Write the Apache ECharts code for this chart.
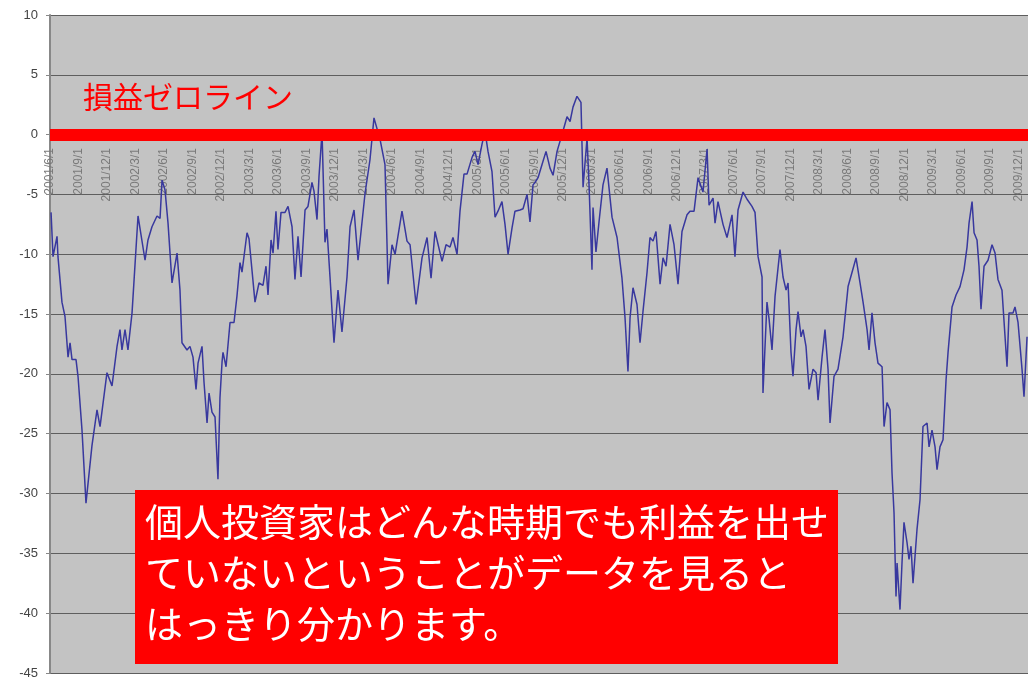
<!DOCTYPE html>
<html>
<head>
<meta charset="utf-8">
<script src="https://cdn.jsdelivr.net/npm/echarts@6/dist/echarts.min.js"></script>
<style>
  html, body { margin: 0; padding: 0; background: #fff; }
  #container { width: 1028px; height: 682px; }
</style>
</head>
<body>
<div id="container"></div>
<script>
// quarter labels on the x axis, one every 3 months from 2001/6/1
const tickLabels = [
    '2001/6/1', '2001/9/1', '2001/12/1',
    '2002/3/1', '2002/6/1', '2002/9/1', '2002/12/1',
    '2003/3/1', '2003/6/1', '2003/9/1', '2003/12/1',
    '2004/3/1', '2004/6/1', '2004/9/1', '2004/12/1',
    '2005/3/1', '2005/6/1', '2005/9/1', '2005/12/1',
    '2006/3/1', '2006/6/1', '2006/9/1', '2006/12/1',
    '2007/3/1', '2007/6/1', '2007/9/1', '2007/12/1',
    '2008/3/1', '2008/6/1', '2008/9/1', '2008/12/1',
    '2009/3/1', '2009/6/1', '2009/9/1', '2009/12/1'
];

// months elapsed since 2001/6/1
const monthIdx = [
    0.11, 0.32, 0.74, 0.84, 1.26, 1.58, 1.90, 2.11, 2.32, 2.74,
    2.95, 3.37, 3.79, 4.42, 4.95, 5.27, 6.00, 6.53, 7.06, 7.37,
    7.58, 7.90, 8.21, 8.64, 9.27, 10.01, 10.32, 10.74, 11.27, 11.59,
    11.80, 12.11, 12.43, 12.85, 13.38, 13.69, 13.90, 14.43, 14.74, 15.06,
    15.38, 15.59, 16.01, 16.22, 16.54, 16.75, 17.06, 17.38, 17.69, 17.90,
    18.12, 18.22, 18.54, 18.96, 19.38, 19.69, 20.01, 20.22, 20.75, 20.96,
    21.59, 22.01, 22.43, 22.75, 22.96, 23.28, 23.49, 23.80, 24.01, 24.33,
    24.75, 25.07, 25.49, 25.80, 26.12, 26.44, 26.86, 27.17, 27.59, 27.80,
    28.12, 28.33, 28.65, 28.96, 29.17, 29.49, 29.91, 30.33, 30.75, 30.96,
    31.28, 31.60, 32.02, 32.44, 33.18, 33.70, 34.12, 34.76, 35.28, 35.60,
    36.02, 36.34, 37.07, 37.60, 37.92, 38.55, 39.18, 39.71, 40.13, 40.55,
    41.29, 41.71, 42.13, 42.44, 42.87, 43.18, 43.60, 43.92, 44.45, 44.76,
    45.08, 45.50, 45.81, 46.13, 46.55, 46.87, 47.18, 47.60, 47.92, 48.24,
    48.66, 48.97, 49.50, 49.82, 50.24, 50.55, 50.87, 51.08, 51.40, 51.82,
    52.24, 52.66, 52.98, 53.40, 54.03, 54.45, 54.77, 55.08, 55.50, 55.92,
    56.14, 56.56, 56.77, 57.08, 57.19, 57.50, 57.82, 58.24, 58.66, 59.19,
    59.72, 60.24, 60.56, 60.87, 61.09, 61.40, 61.82, 62.14, 62.45, 62.88,
    63.19, 63.51, 63.82, 64.25, 64.56, 64.88, 65.30, 65.72, 66.14, 66.56,
    67.09, 67.40, 67.83, 68.25, 68.77, 69.20, 69.41, 69.83, 70.04, 70.35,
    70.88, 71.30, 71.83, 72.14, 72.46, 72.99, 73.41, 73.93, 74.25, 74.57,
    74.99, 75.09, 75.51, 75.73, 76.04, 76.36, 76.88, 77.20, 77.52, 77.73,
    78.04, 78.25, 78.57, 78.78, 79.10, 79.31, 79.62, 79.94, 80.36, 80.68,
    80.89, 81.31, 81.62, 81.94, 82.15, 82.57, 82.99, 83.52, 84.05, 84.47,
    84.89, 85.31, 85.63, 86.05, 86.26, 86.57, 86.89, 87.20, 87.63, 87.84,
    88.15, 88.47, 88.68, 88.89, 89.10, 89.21, 89.52, 89.73, 89.94, 90.26,
    90.47, 90.68, 90.89, 91.31, 91.63, 91.94, 92.37, 92.58, 92.89, 93.21,
    93.42, 93.73, 94.05, 94.37, 94.58, 95.00, 95.42, 95.84, 96.26, 96.58,
    96.79, 97.11, 97.32, 97.63, 97.84, 98.05, 98.37, 98.79, 99.21, 99.53,
    99.84, 100.26, 100.79, 101.00, 101.42, 101.63, 101.95, 102.37, 102.58, 102.90
];

// 損益 (%)
const pnl = [
    -6.5, -10.2, -8.5, -10.2, -14, -15.2, -18.6, -17.4, -18.8, -18.8,
    -20.2, -24.7, -30.8, -26, -23, -24.4, -19.9, -21, -17.7, -16.3,
    -18, -16.3, -18, -14.9, -6.8, -10.5, -8.8, -7.7, -6.8, -7,
    -3.8, -4.6, -7.4, -12.4, -9.9, -13, -17.4, -18, -17.7, -18.6,
    -21.3, -19.1, -17.7, -20.7, -24.1, -21.6, -23.2, -23.6, -28.8, -22,
    -19, -18.2, -19.4, -15.7, -15.7, -13.5, -10.7, -11.5, -8.2, -8.7,
    -14, -12.4, -12.6, -11, -13.4, -8.8, -9.9, -6.4, -9.6, -6.5,
    -6.5, -6, -7.7, -12.1, -8.5, -11.9, -6.3, -6, -4, -4.7,
    -7.1, -3.5, 0.2, -9, -7.9, -11.9, -17.4, -13, -16.5, -16.4,
    -11.9, -7.7, -6.3, -10.5, -4.9, -2.1, 1.4, -0.4, -2.5, -12.5,
    -9.2, -10, -6.4, -8.9, -9.2, -14.2, -10.3, -8.6, -12, -8.1,
    -10.6, -9.2, -9.4, -8.6, -10, -6.4, -3.3, -3.3, -1.9, -1.4,
    -2.5, -0.8, 0.3, -1.4, -3.1, -6.9, -6.4, -5.6, -7.5, -10,
    -7.8, -6.4, -6.3, -6.2, -5, -7.3, -4.2, -4, -3.6, -2.5,
    -1.4, -2.8, -3.4, -1.4, 0.3, 1.5, 1.1, 2.3, 3.2, 2.7,
    -4.4, -0.3, -4.2, -11.3, -6.1, -9.8, -7.3, -4.2, -2.8, -6.9,
    -8.6, -12, -15.3, -19.8, -15.3, -12.8, -14.2, -17.4, -14.8, -11.5,
    -8.6, -8.9, -8.1, -12.5, -10.3, -11, -7.5, -9.2, -12.5, -8.1,
    -6.7, -6.4, -6.4, -3.6, -4.8, -1.2, -5.9, -5.3, -7.4, -5.6,
    -7.5, -8.6, -6.7, -10.2, -6.3, -4.8, -5.4, -6, -6.5, -10.2,
    -11.9, -21.6, -14, -15.4, -18, -13.5, -9.6, -11.9, -13, -12.4,
    -18.2, -20.2, -16.3, -14.8, -16.9, -16.3, -17.7, -21.3, -19.6, -19.9,
    -22.2, -18.6, -16.3, -19.6, -24.1, -20.2, -19.6, -16.9, -12.7, -11.5,
    -10.3, -12.4, -14, -16.3, -18, -14.9, -17.4, -19.1, -19.4, -24.4,
    -22.4, -23, -28.3, -31.6, -38.6, -35.8, -39.7, -35.8, -32.4, -34.1,
    -35.5, -34.4, -37.5, -33, -30.5, -24.4, -24.1, -26.1, -24.7, -26.1,
    -28, -26.1, -25.5, -20.5, -18.2, -14.4, -13.4, -12.7, -11.3, -9.4,
    -7.4, -5.6, -8.2, -8.8, -11, -14.6, -11, -10.5, -9.2, -9.9,
    -12.1, -13, -19.4, -14.9, -14.9, -14.4, -15.7, -19.6, -21.9, -16.9
];

const zeroLineLabel = '損益ゼロライン';
const noteLines = [
    '個人投資家はどんな時期でも利益を出せ',
    'ていないということがデータを見ると',
    'はっきり分かります。'
];

const dom = document.getElementById('container');
const myChart = echarts.init(dom);

const option = {
    backgroundColor: '#fff',
    animation: false,
    title: {
        text: noteLines.join('\n'),
        left: 135,
        top: 490,
        backgroundColor: '#ff0000',
        padding: [6, 9, 15, 10],
        textStyle: {
            color: '#fff',
            fontSize: 38,
            lineHeight: 51,
            fontWeight: 'normal',
            fontFamily: 'Noto Sans CJK JP'
        }
    },
    grid: {
        left: 50,
        right: 0,
        top: 15,
        bottom: 9,
        outerBoundsMode: 'none',
        containLabel: false,
        show: true,
        backgroundColor: '#c3c3c3',
        borderWidth: 0
    },
    xAxis: {
        type: 'value',
        position: 'bottom',
        // category labels hang from the zero line, as in the Excel original
        offset: -538,
        min: 0,
        max: 103,
        interval: 3,
        axisLine: { show: true, onZero: false, lineStyle: { color: '#888' } },
        axisTick: { show: false },
        splitLine: { show: false },
        axisLabel: {
            rotate: 90,
            margin: 13,
            fontSize: 12,
            color: '#7a7a7a',
            fontFamily: 'Liberation Sans',
            formatter: function (v) {
                if (v % 3 !== 0) return '';
                return tickLabels[v / 3] || '';
            }
        }
    },
    yAxis: {
        type: 'value',
        min: -45,
        max: 10,
        interval: 5,
        axisLine: { show: true, onZero: false, lineStyle: { color: '#888', width: 2 } },
        axisTick: { show: true, length: 4, lineStyle: { color: '#888' } },
        splitLine: { show: true, lineStyle: { color: '#5e5e5e', width: 1 } },
        axisLabel: {
            fontSize: 13,
            color: '#444',
            margin: 12,
            fontFamily: 'Liberation Sans'
        }
    },
    series: [{
        type: 'line',
        data: monthIdx.map((m, i) => [m, pnl[i]]),
        showSymbol: false,
        lineStyle: { color: '#38389e', width: 1.5 },
        z: 2,
        markLine: {
            silent: true,
            symbol: 'none',
            lineStyle: { color: '#ff0000', width: 12, type: 'solid' },
            label: {
                show: true,
                position: 'insideStartTop',
                distance: [33, 23],
                formatter: zeroLineLabel,
                color: '#ff0000',
                fontSize: 30,
                fontFamily: 'Noto Sans CJK JP'
            },
            data: [{ yAxis: 0 }]
        }
    }]
};

myChart.setOption(option);
</script>
</body>
</html>
